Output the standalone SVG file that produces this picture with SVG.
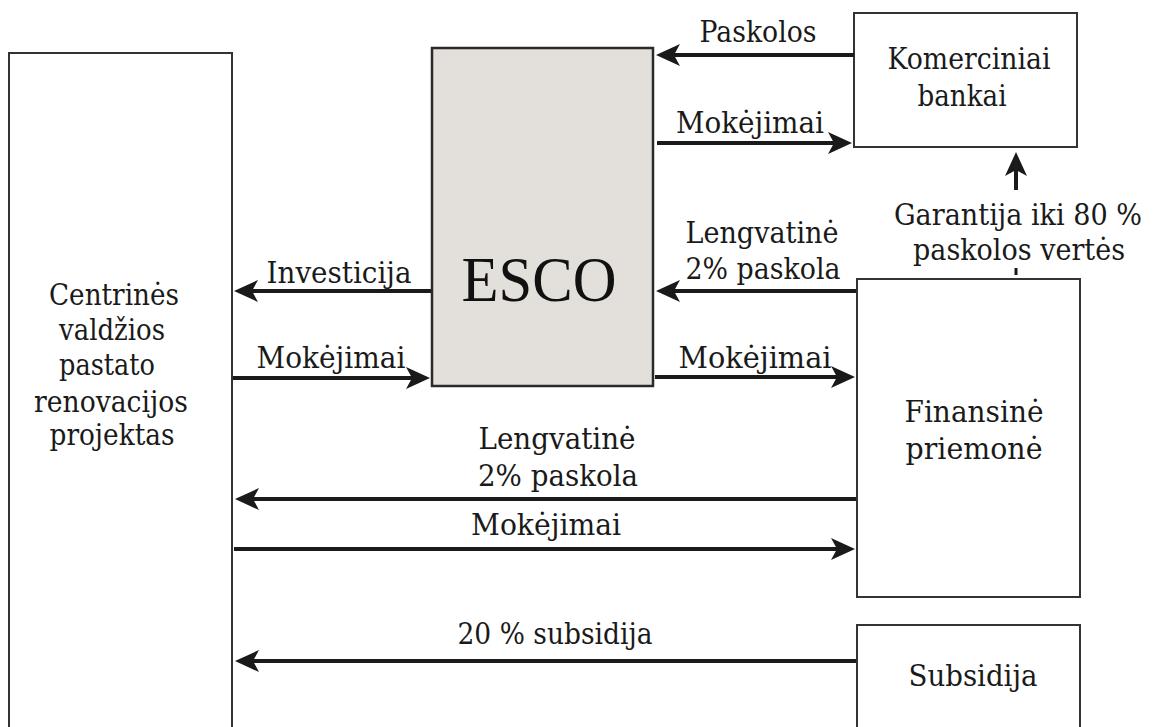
<svg xmlns="http://www.w3.org/2000/svg" width="1156" height="727" viewBox="0 0 1156 727">
<defs>
<style>
.box{fill:#ffffff;stroke:#333333;stroke-width:2}
.esco{fill:#e3dfda;stroke:#2a2a2a;stroke-width:2.5}
.t{font-family:"DejaVu Serif","Liberation Serif",serif;font-size:29px;fill:#1a1a1a;text-anchor:middle}
.big{font-family:"Liberation Serif","Times New Roman",serif;font-size:64px;fill:#111111;text-anchor:middle}
.c{stroke:#1a1a1a;stroke-width:4;fill:none;marker-end:url(#ah)}
.tick{stroke:#1a1a1a;stroke-width:3}
</style>
<marker id="ah" markerUnits="userSpaceOnUse" markerWidth="26" markerHeight="24" refX="11" refY="11" orient="auto" viewBox="0 0 26 24">
<path d="M0,0 L24,11 L0,22 L6,11 Z" fill="#1a1a1a"/>
</marker>
</defs>
<rect width="1156" height="727" fill="#ffffff"/>
<g id="node-projektas">
<rect class="box" x="9" y="53" width="223" height="700"/>
<text class="t" x="114" y="305" textLength="130" lengthAdjust="spacingAndGlyphs">Centrinės</text>
<text class="t" x="112" y="340" textLength="106" lengthAdjust="spacingAndGlyphs">valdžios</text>
<text class="t" x="107" y="375" textLength="96" lengthAdjust="spacingAndGlyphs">pastato</text>
<text class="t" x="111" y="412" textLength="154" lengthAdjust="spacingAndGlyphs">renovacijos</text>
<text class="t" x="112" y="445" textLength="125" lengthAdjust="spacingAndGlyphs">projektas</text>
</g>
<g id="node-esco">
<rect class="esco" x="432" y="48" width="221" height="338"/>
<text class="big" x="539" y="301" textLength="155" lengthAdjust="spacingAndGlyphs">ESCO</text>
</g>
<g id="node-bankai">
<rect class="box" x="854" y="13" width="223" height="134"/>
<text class="t" x="969" y="69" textLength="163" lengthAdjust="spacingAndGlyphs">Komerciniai</text>
<text class="t" x="962" y="106" textLength="89" lengthAdjust="spacingAndGlyphs">bankai</text>
</g>
<g id="node-finansine">
<rect class="box" x="857" y="279" width="223" height="318"/>
<text class="t" x="974" y="422" textLength="139" lengthAdjust="spacingAndGlyphs">Finansinė</text>
<text class="t" x="974" y="459" textLength="137" lengthAdjust="spacingAndGlyphs">priemonė</text>
</g>
<g id="node-subsidija">
<rect class="box" x="857" y="625" width="223" height="120"/>
<text class="t" x="973" y="686" textLength="129" lengthAdjust="spacingAndGlyphs">Subsidija</text>
</g>
<g id="connectors">
<line class="c" x1="854" y1="55" x2="669" y2="55"/>
<line class="c" x1="657" y1="143" x2="839" y2="143"/>
<line class="c" x1="856" y1="291" x2="669" y2="291"/>
<line class="c" x1="655" y1="377" x2="842" y2="377"/>
<line class="c" x1="431" y1="291" x2="247" y2="291"/>
<line class="c" x1="233" y1="378" x2="417" y2="378"/>
<line class="c" x1="856" y1="499" x2="248" y2="499"/>
<line class="c" x1="234" y1="549" x2="842" y2="549"/>
<line class="c" x1="856" y1="661" x2="248" y2="661"/>
<line class="c" x1="1016" y1="190" x2="1016" y2="165"/>
<line class="tick" x1="1016" y1="268" x2="1016" y2="275"/>
</g>
<g id="labels">
<text class="t" x="758" y="42" textLength="117" lengthAdjust="spacingAndGlyphs">Paskolos</text>
<text class="t" x="750" y="133" textLength="148" lengthAdjust="spacingAndGlyphs">Mokėjimai</text>
<text class="t" x="762" y="243" textLength="153" lengthAdjust="spacingAndGlyphs">Lengvatinė</text>
<text class="t" x="763" y="279" textLength="155" lengthAdjust="spacingAndGlyphs">2% paskola</text>
<text class="t" x="1018" y="225" textLength="248" lengthAdjust="spacingAndGlyphs">Garantija iki 80 %</text>
<text class="t" x="1019" y="260" textLength="212" lengthAdjust="spacingAndGlyphs">paskolos vertės</text>
<text class="t" x="755" y="368" textLength="153" lengthAdjust="spacingAndGlyphs">Mokėjimai</text>
<text class="t" x="339" y="283" textLength="145" lengthAdjust="spacingAndGlyphs">Investicija</text>
<text class="t" x="331" y="368" textLength="149" lengthAdjust="spacingAndGlyphs">Mokėjimai</text>
<text class="t" x="557" y="449" textLength="157" lengthAdjust="spacingAndGlyphs">Lengvatinė</text>
<text class="t" x="558" y="486" textLength="160" lengthAdjust="spacingAndGlyphs">2% paskola</text>
<text class="t" x="546" y="535" textLength="150" lengthAdjust="spacingAndGlyphs">Mokėjimai</text>
<text class="t" x="555" y="644" textLength="195" lengthAdjust="spacingAndGlyphs">20 % subsidija</text>
</g>
</svg>
